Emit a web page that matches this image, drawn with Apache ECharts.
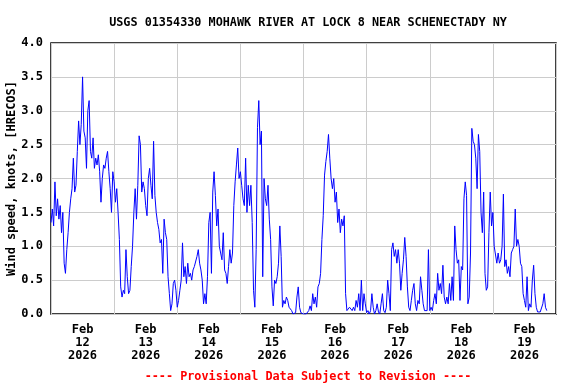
<!DOCTYPE html>
<html><head><meta charset="utf-8">
<script src="https://cdn.jsdelivr.net/npm/echarts@6/dist/echarts.min.js"></script>
<style>html,body{margin:0;padding:0;background:#fff}#c{width:576px;height:384px}</style>
</head><body><div id="c"></div>
<script>
// Half-hourly wind speed (knots), starting at 00:00 of each day
const feb12 = [1.35,1.55,1.3,1.95,1.45,1.7,1.4,1.6,1.2,1.5,0.75,0.6,0.95,1.2,1.5,1.7,1.85,2.3,1.8,1.9,2.4,2.85,2.5,2.8,3.5,2.7,2.6,2.15,3.0,3.15,2.4,2.3,2.6,2.15,2.3,2.2,2.35,2.1,1.65,2.0,2.2,2.15,2.3,2.4,2.1,1.85,1.5,2.1];
const feb13 = [1.95,1.65,1.85,1.5,1.1,0.4,0.25,0.35,0.3,0.95,0.55,0.3,0.35,0.7,1.0,1.5,1.85,1.4,1.9,2.63,2.5,1.8,1.95,1.85,1.6,1.45,2.0,2.15,1.9,1.7,2.55,1.75,1.5,1.35,1.25,1.05,1.1,0.6,1.4,1.2,1.1,0.55,0.3,0.05,0.15,0.45,0.5,0.35];
const feb14 = [0.1,0.2,0.35,0.5,1.05,0.55,0.7,0.45,0.75,0.55,0.6,0.5,0.65,0.7,0.7,0.85,0.95,0.75,0.65,0.5,0.15,0.3,0.15,0.55,1.35,1.5,0.6,1.8,2.1,1.75,1.3,1.55,1.0,0.9,0.8,1.2,0.65,0.6,0.45,0.7,0.95,0.75,0.9,1.6,1.95,2.2,2.45,2.0];
const feb15 = [2.1,1.9,1.7,1.6,2.3,1.5,1.9,1.6,1.9,1.35,0.35,0.1,0.95,2.75,3.15,2.5,2.7,0.55,2.0,1.7,1.6,1.9,1.4,1.1,0.4,0.12,0.5,0.45,0.55,0.75,1.3,0.85,0.1,0.2,0.15,0.25,0.2,0.1,0.12,0.05,0,0,0.02,0.25,0.4,0.1,0.02,0];
const feb16 = [0,0,0,0,0.05,0.12,0.05,0.3,0.15,0.25,0.1,0.4,0.45,0.6,1.1,1.45,2.05,2.25,2.4,2.65,2.3,2.0,1.85,2.0,1.65,1.8,1.35,1.55,1.2,1.4,1.3,1.45,0.3,0.05,0.05,0.1,0.1,0.05,0.1,0.05,0.2,0.1,0.3,0.05,0.5,0.05,0.3,0.15];
const feb17 = [0.02,0.05,0,0.05,0.3,0.1,0,0.05,0.15,0.03,0,0.15,0.3,0.05,0.02,0.1,0.5,0.3,0.05,0.95,1.05,0.85,0.95,0.75,0.95,0.75,0.35,0.6,0.8,1.13,0.85,0.4,0.1,0.05,0.2,0.35,0.45,0.15,0.05,0.2,0.15,0.55,0.35,0.15,0.05,0.05,0.05,0.95];
const feb18 = [0.05,0.1,0.05,0.2,0.3,0.15,0.6,0.35,0.45,0.3,0.72,0.25,0.15,0.25,0.15,0.45,0.2,0.55,0.2,1.3,0.95,0.75,0.8,0.2,0.7,0.65,1.7,1.95,1.75,0.15,0.25,0.9,2.74,2.55,2.5,2.3,1.85,2.65,2.4,1.5,1.2,1.8,0.6,0.35,0.4,1.2,1.8,1.3];
const feb19 = [1.5,1.0,1.0,0.75,0.9,0.75,0.8,1.0,1.77,0.7,0.8,0.6,0.7,0.55,0.9,0.95,1.0,1.55,1.0,1.1,1.0,0.75,0.7,0.3,0.2,0.1,0.55,0.05,0.15,0.1,0.5,0.72,0.3,0.1,0.03,0.05,0.03,0.05,0.15,0.3,0.1,0.05];
const stepHours = 0.5;
const dayLabels = ['Feb\n12\n2026','Feb\n13\n2026','Feb\n14\n2026','Feb\n15\n2026','Feb\n16\n2026','Feb\n17\n2026','Feb\n18\n2026','Feb\n19\n2026'];
const titleText = 'USGS 01354330 MOHAWK RIVER AT LOCK 8 NEAR SCHENECTADY NY';
const yName = 'Wind speed, knots, [HRECOS]';
const footer = '---- Provisional Data Subject to Revision ----';

const values = [].concat(feb12, feb13, feb14, feb15, feb16, feb17, feb18, feb19);
const data = values.map((v, i) => [i * stepHours, v]);
const F = 'DejaVu Sans Mono';
const chart = echarts.init(document.getElementById('c'), null, {renderer: 'canvas'});
chart.setOption({
  animation: false,
  title: [
    {text: titleText, left: 303, textAlign: 'center', top: 12, textStyle: {fontFamily: F, fontSize: 11.8, fontWeight: 'bold', color: '#000'}},
    {text: footer, left: 303, textAlign: 'center', top: 366, textStyle: {fontFamily: F, fontSize: 11.8, fontWeight: 'bold', color: '#ff0000'}}
  ],
  grid: {left: 51, right: 20, top: 43, bottom: 70, outerBoundsMode: 'none', containLabel: false,
    show: true, borderColor: '#000', borderWidth: 1.5, backgroundColor: 'transparent'},
  xAxis: [
    {type: 'value', min: 0, max: 192, interval: 24, axisLine: {show: false}, axisTick: {show: false}, axisLabel: {show: false},
     splitLine: {show: true, lineStyle: {color: '#cccccc', width: 1}}},
    {type: 'value', min: 0, max: 192, interval: 12, position: 'bottom', axisLine: {show: false}, axisTick: {show: false}, splitLine: {show: false},
     axisLabel: {show: true, margin: 9, fontFamily: F, fontSize: 12, fontWeight: 'bold', color: '#000', lineHeight: 13,
       formatter: v => (v % 24 === 12) ? dayLabels[(v - 12) / 24] : ''}}
  ],
  yAxis: {type: 'value', min: 0, max: 4, interval: 0.5, name: yName, nameLocation: 'middle', nameGap: 33, nameRotate: 90,
    nameMoveOverlap: false,
    nameTextStyle: {fontFamily: F, fontSize: 12, fontWeight: 'bold', color: '#000'},
    axisLine: {show: false}, axisTick: {show: false},
    axisLabel: {margin: 8, fontFamily: F, fontSize: 12, fontWeight: 'bold', color: '#000', formatter: v => v.toFixed(1)},
    splitLine: {show: true, lineStyle: {color: '#cccccc', width: 1}}},
  series: [{type: 'line', data: data, xAxisIndex: 0, showSymbol: false, symbol: 'none', lineStyle: {color: '#0000ff', width: 1}}]
});
</script></body></html>
